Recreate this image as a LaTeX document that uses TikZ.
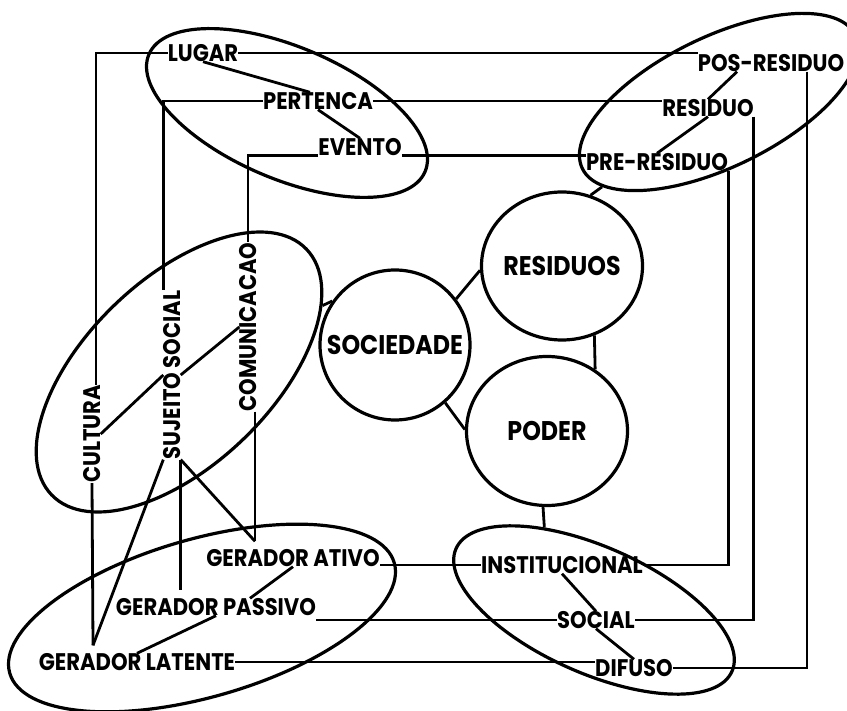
\documentclass[tikz,border=0pt]{standalone}
\usepackage{fontspec}
\newfontfamily\lbl{Poppins}[FakeStretch=0.88]
\usetikzlibrary{shapes.geometric}
\begin{document}
\begin{tikzpicture}[x=1pt,y=-1pt,
  lab/.style={font=\lbl\bfseries\fontsize{24}{24}\selectfont, inner sep=0pt,
    text height=17pt, text depth=0pt},
  big/.style={font=\lbl\bfseries\fontsize{27}{27}\selectfont, inner sep=0pt},
  hub/.style={draw, line width=3.2pt, inner sep=0pt},
  grp/.style={draw, ellipse, line width=3.2pt, inner sep=0pt},
  wire/.style={line width=2.8pt, line join=miter}]
\fill[white] (0,0) rectangle (847,711);
\useasboundingbox (0,0) rectangle (847,711);

% group outlines
\node[grp, minimum width=300, minimum height=132, rotate=-23] (e1) at (287,113) {};
\node[grp, minimum width=304, minimum height=130, rotate=26] (e2) at (719,102) {};
\node[grp, minimum width=354, minimum height=186, rotate=44] (e3) at (179,372) {};
\node[grp, minimum width=400, minimum height=158, rotate=16] (e4) at (202,618) {};
\node[grp, minimum width=302, minimum height=126, rotate=-24] (e5) at (594,610) {};

% central hubs
\node[hub, circle, minimum size=150, label={[big]center:SOCIEDADE}] (soc) at (395,345) {};
\node[hub, ellipse, minimum width=161, minimum height=148, label={[big]center:RESIDUOS}] (res) at (562,266) {};
\node[hub, ellipse, minimum width=161, minimum height=149, label={[big]center:PODER}] (poder) at (547,431) {};

% labels
\node[lab] (lugar) at (203,53) {LUGAR};
\node[lab] (pertenca) at (318,101) {PERTENCA};
\node[lab] (evento) at (360,147) {EVENTO};
\node[lab] (posres) at (771,63) {POS-RESIDUO};
\node[lab] (residuo) at (708,108) {RESIDUO};
\node[lab] (preres) at (657,162) {PRE-RESIDUO};
\node[lab] (instit) at (562,565) {INSTITUCIONAL};
\node[lab] (social) at (596,620) {SOCIAL};
\node[lab] (difuso) at (634,668) {DIFUSO};
\node[lab] (ativo) at (293,558) {GERADOR ATIVO};
\node[lab] (passivo) at (216,607) {GERADOR PASSIVO};
\node[lab] (latente) at (137,662) {GERADOR LATENTE};
\node[lab, rotate=90] (cultura) at (92,434) {CULTURA};
\node[lab, rotate=90] (sujeito) at (172,375) {SUJEITO SOCIAL};
\node[lab, rotate=90] (comunic) at (248,327) {COMUNICACAO};

% junction points above the generator labels
\coordinate (ajunc) at ([xshift=-38pt,yshift=8pt]ativo.north);
\coordinate (pjunc) at ([yshift=8pt]passivo.north);
\coordinate (ljunc) at ([xshift=-44pt,yshift=8pt]latente.north);

% hub links
\draw[wire] (soc.37) -- (res.183);
\draw[wire] (res.-65) -- (poder.52);
\draw[wire] (soc.-49) -- (poder.179);
\draw[wire] (soc.145) -- (e3);
\draw[wire] (res.68) -- (e2);
\draw[wire] (poder.-93) -- (e5.145);

% top group
\draw[wire] (lugar.west) -| ([xshift=4pt]cultura.east);
\draw[wire] (lugar.east) -- (lugar.east -| posres.west);
\draw[wire] (lugar.south) -- ([xshift=-8pt]pertenca.north);
\draw[wire] (pertenca.south) -- (evento.north);
\draw[wire] (pertenca.west) -| (sujeito.north east);
\draw[wire] (pertenca.east) -- (pertenca.east -| residuo.west);
\draw[wire] (evento.south west) -| (comunic.east);
\draw[wire] (evento.south east) -- (evento.south east -| preres.west);

% residue group
\draw[wire] ([xshift=-34pt]posres.south) -- (residuo.north);
\draw[wire] (residuo.south) -- (preres.north);
\draw[wire] (preres.south east) |- (instit.east);
\draw[wire] (residuo.south east) |- (social.east);
\draw[wire] ([xshift=36pt]posres.south) |- (difuso.east);

% social group
\draw[wire] (ajunc |- comunic.west) -- (ajunc);
\draw[wire] (sujeito.south west) -- (ajunc);
\draw[wire] (sujeito.south west) -- (sujeito.south west |- pjunc);
\draw[wire] (cultura.west) -- (ljunc);
\draw[wire] (sujeito.north west) -- (ljunc);
\draw[wire] (cultura.south) -- (sujeito.north);
\draw[wire] (sujeito.south) -- (comunic.north);

% generator group
\draw[wire] (ativo.south) -- ([xshift=34pt]passivo.north);
\draw[wire] (passivo.south) -- (latente.north);
\draw[wire] (instit.west) -- (instit.west -| ativo.east);
\draw[wire] (social.west) -- (social.west -| passivo.east);
\draw[wire] (latente.east) -- (latente.east -| difuso.west);

% institution group
\draw[wire] (instit.south) -- (social.north);
\draw[wire] (social.south) -- (difuso.north);
\end{tikzpicture}
\end{document}
